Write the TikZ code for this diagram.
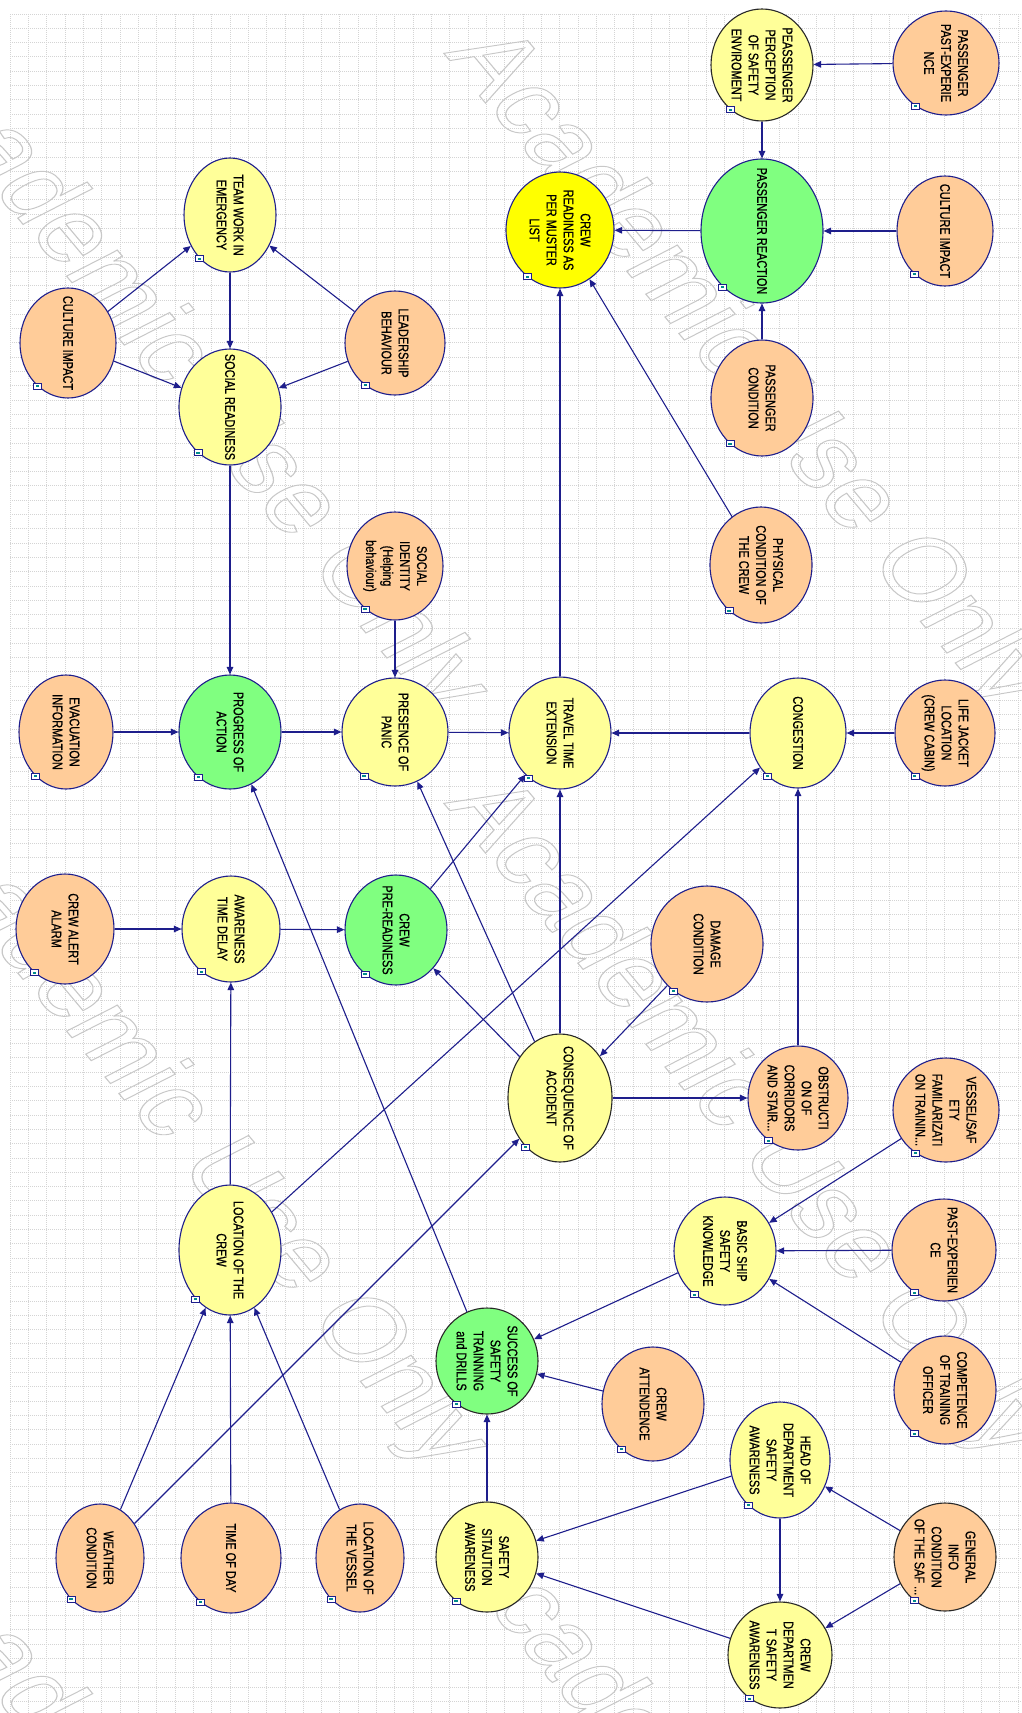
\documentclass[tikz,border=0pt]{standalone}
\usepackage{fontspec}
\setmainfont{Liberation Sans}
\newfontfamily\nodefont{Liberation Sans}[FakeStretch=0.78,FakeBold=0.8]
\newfontfamily\wmfont{Liberation Sans}
\usetikzlibrary{shapes.geometric,arrows.meta}
\definecolor{peach}{RGB}{255,204,153}
\definecolor{lyel}{RGB}{255,255,153}
\definecolor{lgrn}{RGB}{128,255,128}
\definecolor{byel}{RGB}{255,255,0}
\definecolor{mynavy}{RGB}{30,30,140}
\definecolor{dkline}{RGB}{40,40,40}
\definecolor{gridc}{RGB}{212,212,212}
\definecolor{wmc}{RGB}{200,200,200}
\definecolor{icont}{RGB}{0,140,140}
\begin{document}
\begin{tikzpicture}[x=1pt,y=-1pt,
  bn/.style={ellipse, draw=mynavy, line width=1.1pt, inner sep=0pt},
  pch/.style={bn, fill=peach},
  yel/.style={bn, fill=lyel},
  grn/.style={bn, fill=lgrn},
  byl/.style={bn, fill=byel},
  dk/.style={draw=dkline},
  sz/.style 2 args={minimum width=#1*2, minimum height=#2*2},
  txt/.style={rotate=-90, align=center, font=\nodefont\fontsize{14}{17}\selectfont, inner sep=0pt, text=black},
  edge/.style={draw=mynavy, line width=1.1pt, -{Triangle[length=7.5pt,width=6.5pt]}},
  icon/.style={rectangle, draw=mynavy, fill=white, line width=0.7pt, minimum width=8pt, minimum height=6pt, inner sep=0pt,
    path picture={\fill[icont] ([xshift=-1.6pt,yshift=-1pt]path picture bounding box.center) rectangle ([xshift=1.6pt,yshift=1pt]path picture bounding box.center);}},
  gridl/.style={draw=gridc, line width=0.9pt, dash pattern=on 1pt off 1pt},
  wm/.style={rotate=-56.8, transform shape, inner sep=0pt, text=wmc, font=\wmfont\fontsize{115}{115}\selectfont}
]
% canvas
\fill[white] (0,0) rectangle (1021,1713);
\useasboundingbox (0,0) rectangle (1021,1713);
% grid
\foreach \i in {0,...,55} \draw[gridl] ({10+\i*18.33},14) -- ({10+\i*18.33},1713);
\foreach \j in {0,...,118} \draw[gridl] (10,{14+\j*14.3}) -- (1021,{14+\j*14.3});
% watermark
\begin{scope}[yscale=0.78]
\foreach \cx/\cy [count=\k] in {745/370, 185/375, 745/1120, 185/1130, 745/1870, 185/1880}
  \node[wm] (wm\k) at (\cx,{\cy/0.78}) {\special{pdf:literal 1.2 w 1 Tr}Academic Use Only\special{pdf:literal 0 Tr}};
\end{scope}
% nodes
\node[yel, sz={46}{57}, label={[txt]center:TEAM WORK IN\\EMERGENCY}] (tw) at (230,215) {};
\node[pch, sz={48}{55}, label={[txt]center:CULTURE IMPACT}] (ci1) at (68,343) {};
\node[pch, sz={50}{52}, label={[txt]center:LEADERSHIP\\BEHAVIOUR}] (lb) at (395,343) {};
\node[yel, sz={51}{58}, label={[txt]center:SOCIAL READINESS}] (sr) at (230,407) {};
\node[pch, sz={53}{52}, label={[txt]center:PASSENGER\\PAST-EXPERIE\\NCE}] (ppe) at (946,63) {};
\node[yel, dk, sz={51}{56}, label={[txt]center:PEASSENGER\\PERCEPTION\\OF SAFETY\\ENVIROMENT}] (ppc) at (762,65) {};
\node[byl, sz={54}{58}, label={[txt]center:CREW\\READINESS AS\\PER MUSTER\\LIST}] (crm) at (560,230) {};
\node[grn, sz={61}{72}, label={[txt]center:PASSENGER REACTION}] (pr) at (762,231) {};
\node[pch, sz={48}{55}, label={[txt]center:CULTURE IMPACT}] (ci2) at (945,231) {};
\node[pch, sz={51}{58}, label={[txt]center:PASSENGER\\CONDITION}] (pc) at (762,398) {};
\node[pch, sz={51}{58}, label={[txt]center:PHYSICAL\\CONDITION OF\\THE CREW}] (phc) at (761,565) {};
\node[pch, sz={48}{54}, label={[txt]center:SOCIAL\\IDENTITY\\(Helping\\behaviour)}] (si) at (395,566) {};
\node[grn, sz={51}{57}, label={[txt]center:PROGRESS OF\\ACTION}] (pa) at (230,732) {};
\node[pch, sz={47}{57}, label={[txt]center:EVACUATION\\INFORMATION}] (ei) at (66,732) {};
\node[yel, sz={53}{54}, label={[txt]center:PRESENCE OF\\PANIC}] (pp) at (395,732) {};
\node[yel, sz={51}{56}, label={[txt]center:TRAVEL TIME\\EXTENSION}] (tt) at (560,733) {};
\node[yel, sz={48}{55}, label={[txt]center:CONGESTION}] (cg) at (798,733) {};
\node[pch, sz={50}{53}, label={[txt]center:LIFE JACKET\\LOCATION\\(CREW CABIN)}] (lj) at (945,733) {};
\node[pch, sz={49}{55}, label={[txt]center:CREW ALERT\\ALARM}] (ca) at (65,929) {};
\node[yel, sz={49}{53}, label={[txt]center:AWARENESS\\TIME DELAY}] (at) at (231,929) {};
\node[grn, sz={51}{55}, label={[txt]center:CREW\\PRE-READINESS}] (cp) at (396,930) {};
\node[pch, sz={56}{58}, label={[txt]center:DAMAGE\\CONDITION}] (dc) at (707,944) {};
\node[yel, dk, sz={52}{64}, label={[txt]center:CONSEQUENCE OF\\ACCIDENT}] (co) at (560,1098) {};
\node[pch, sz={50}{52}, label={[txt]center:OBSTRUCTI\\ON OF\\CORRIDORS\\AND STAIR...}] (ob) at (798,1098) {};
\node[pch, sz={53}{52}, label={[txt]center:VESSEL/SAF\\ETY\\FAMILARIZATI\\ON TRAININ...}] (vs) at (946,1110) {};
\node[yel, sz={51}{65}, label={[txt]center:LOCATION OF THE\\CREW}] (lc) at (230,1250) {};
\node[yel, sz={51}{54}, label={[txt]center:BASIC SHIP\\SAFETY\\KNOWLEDGE}] (bs) at (725,1251) {};
\node[pch, sz={52}{51}, label={[txt]center:PAST-EXPERIEN\\CE}] (pe) at (944,1250) {};
\node[grn, dk, sz={51}{53}, label={[txt]center:SUCCESS OF\\SAFETY\\TRAINNING\\and DRILLS}] (ss) at (487,1361) {};
\node[pch, sz={51}{57}, label={[txt]center:CREW\\ATTENDENCE}] (cat) at (653,1404) {};
\node[pch, sz={51}{54}, label={[txt]center:COMPETENCE\\OF TRAINING\\OFFICER}] (cto) at (945,1390) {};
\node[yel, sz={50}{58}, label={[txt]center:HEAD OF\\DEPARTMENT\\SAFETY\\AWARENESS}] (hd) at (780,1460) {};
\node[pch, sz={44}{54}, label={[txt]center:WEATHER\\CONDITION}] (wc) at (100,1558) {};
\node[pch, sz={50}{55}, label={[txt]center:TIME OF DAY}] (td) at (231,1558) {};
\node[pch, sz={44}{54}, label={[txt]center:LOCATION OF\\THE VESSEL}] (lv) at (360,1558) {};
\node[yel, dk, sz={51}{55}, label={[txt]center:SAFETY\\SITAUTION\\AWARENESS}] (sa) at (487,1557) {};
\node[pch, dk, sz={51}{54}, label={[txt]center:GENERAL\\INFO\\CONDITION\\OF THE SAF ...}] (gi) at (945,1557) {};
\node[yel, dk, sz={52}{53}, label={[txt]center:CREW\\DEPARTMEN\\T SAFETY\\AWARENESS}] (cd) at (780,1655) {};
% connectors
\draw[edge] (tw) -- (sr);
\draw[edge] (ci1) -- (tw);
\draw[edge] (ci1) -- (sr);
\draw[edge] (lb) -- (tw);
\draw[edge] (lb) -- (sr);
\draw[edge] (sr) -- (pa);
\draw[edge] (ppe) -- (ppc);
\draw[edge] (ppc) -- (pr);
\draw[edge] (ci2) -- (pr);
\draw[edge] (pr) -- (crm);
\draw[edge] (pc) -- (pr);
\draw[edge] (phc) -- (crm);
\draw[edge] (tt) -- (crm);
\draw[edge] (si) -- (pp);
\draw[edge] (ei) -- (pa);
\draw[edge] (pa) -- (pp);
\draw[edge] (pp) -- (tt);
\draw[edge] (cg) -- (tt);
\draw[edge] (lj) -- (cg);
\draw[edge] (ca) -- (at);
\draw[edge] (at) -- (cp);
\draw[edge] (cp) -- (tt);
\draw[edge] (lc) -- (at);
\draw[edge] (ss) -- (pa);
\draw[edge] (co) -- (pp);
\draw[edge] (co) -- (cp);
\draw[edge] (co) -- (tt);
\draw[edge] (co) -- (ob);
\draw[edge] (dc) -- (co);
\draw[edge] (ob) -- (cg);
\draw[edge] (lc) -- (cg);
\draw[edge] (wc) -- (co);
\draw[edge] (wc) -- (lc);
\draw[edge] (td) -- (lc);
\draw[edge] (lv) -- (lc);
\draw[edge] (sa) -- (ss);
\draw[edge] (cat) -- (ss);
\draw[edge] (bs) -- (ss);
\draw[edge] (vs) -- (bs);
\draw[edge] (pe) -- (bs);
\draw[edge] (cto) -- (bs);
\draw[edge] (hd) -- (sa);
\draw[edge] (hd) -- (cd);
\draw[edge] (gi) -- (hd);
\draw[edge] (gi) -- (cd);
\draw[edge] (cd) -- (sa);
% small node icons
\foreach \n in {tw,ci1,lb,sr,ppe,ppc,crm,pr,ci2,pc,phc,si,pa,ei,pp,tt,cg,lj,ca,at,cp,dc,co,ob,vs,lc,bs,pe,ss,cat,cto,hd,wc,td,lv,sa,gi,cd}
  \node[icon] (ic-\n) at (\n.-125) {};
\end{tikzpicture}
\end{document}
